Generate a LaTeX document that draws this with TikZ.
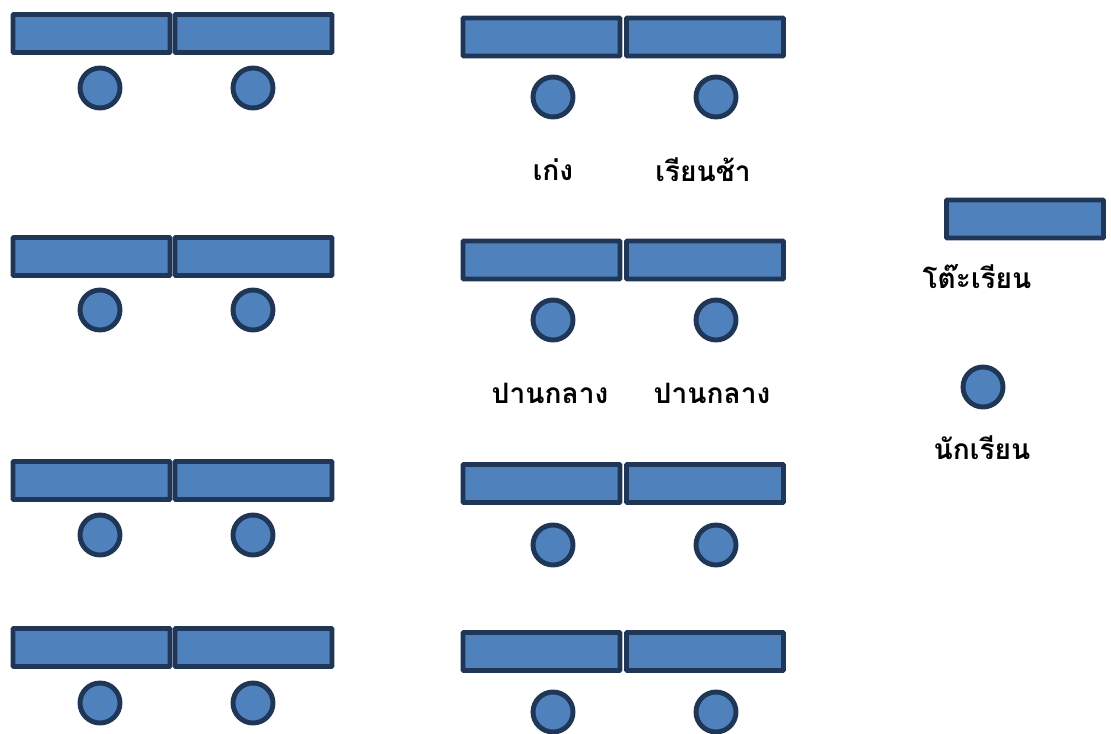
\documentclass[tikz,border=0pt]{standalone}
\usepackage{fontspec}
\newfontfamily\thaifont[Script=Thai]{Loma}
\definecolor{deskfill}{HTML}{4F81BD}
\definecolor{deskline}{HTML}{1F3656}
\usetikzlibrary{positioning}
\begin{document}
\begin{tikzpicture}[
  x=0.02cm, y=-0.02cm,
  desk/.style={draw=deskline, fill=deskfill, line width=2.8pt, rounded corners=0.5pt, minimum width=3.14cm, minimum height=0.76cm, inner sep=0pt},
  kid/.style={circle, draw=deskline, fill=deskfill, line width=2.8pt, minimum size=0.8cm, inner sep=0pt},
  tag/.style={font=\thaifont\bfseries\fontsize{16}{19}\selectfont, inner sep=0pt}
]
  \useasboundingbox (0,0) rectangle (1111,733);

  % left column
  \foreach \r/\dy/\cy in {1/33.5/88, 2/256.5/310, 3/480.5/535, 4/647.5/703} {
    \node[desk] (deskL\r a) at (91.5,\dy)  {};
    \node[desk] (deskL\r b) at (253.5,\dy) {};
    \node[kid]  (kidL\r a)  at (100,\cy)   {};
    \node[kid]  (kidL\r b)  at (253,\cy)   {};
  }

  % middle column
  \foreach \r/\dy/\cy in {1/37/97, 2/260/320, 3/483.5/545, 4/651.5/712} {
    \node[desk] (deskM\r a) at (541.5,\dy) {};
    \node[desk] (deskM\r b) at (705,\dy)   {};
    \node[kid]  (kidM\r a)  at (553,\cy)   {};
    \node[kid]  (kidM\r b)  at (716,\cy)   {};
  }

  \node[tag] (good) at (553,170) {เก่ง};
  \node[tag] (slow) at (703,170) {เรียนช้า};
  \node[tag] (midA) at (550,393) {ปานกลาง};
  \node[tag] (midB) at (712,393) {ปานกลาง};

  % legend
  \node[desk] (legdesk) at (1025,219) {};
  \node[tag]  (legdesktext) at (977,277) {โต๊ะเรียน};
  \node[kid]  (legkid) at (983,387) {};
  \node[tag]  (legkidtext) at (982,448) {นักเรียน};
\end{tikzpicture}
\end{document}
